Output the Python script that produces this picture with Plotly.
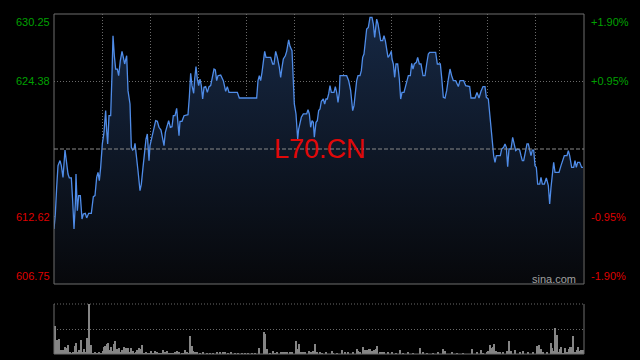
import plotly.graph_objects as go

# ---------------- data ----------------
prev_close = 618.50
price_ticks = [630.25, 624.38, 612.62, 606.75]
price_tick_labels = ["630.25", "624.38", "612.62", "606.75"]
pct_tick_labels = ["+1.90%", "+0.95%", "-0.95%", "-1.90%"]
session_seconds = 15900

# elapsed seconds since open
t_price = [
    0, 40, 80, 120, 180, 220, 270, 300, 330, 370, 420, 460, 520, 560, 600, 640, 660, 700, 740, 790,
    840, 880, 940, 980, 1040, 1120, 1180, 1230, 1280, 1320, 1360, 1400, 1450, 1500, 1550, 1580, 1610, 1650, 1700, 1740,
    1770, 1810, 1850, 1900, 1940, 1990, 2040, 2080, 2120, 2180, 2220, 2280, 2320, 2360, 2400, 2430, 2470, 2520, 2580, 2620,
    2670, 2720, 2760, 2800, 2850, 2880, 2920, 2960, 3000, 3050, 3100, 3150, 3210, 3260, 3300, 3340, 3380, 3440, 3490, 3540,
    3580, 3630, 3680, 3720, 3750, 3780, 3840, 3900, 3970, 4020, 4060, 4100, 4140, 4190, 4220, 4260, 4300, 4340, 4380, 4420,
    4460, 4500, 4550, 4600, 4650, 4700, 4750, 4800, 4840, 4880, 4920, 5000, 5080, 5150, 5200, 5250, 5500, 5560, 6080, 6120,
    6160, 6200, 6240, 6280, 6320, 6360, 6500, 6560, 6600, 6650, 6700, 6760, 6800, 6840, 6880, 6940, 6980, 7040, 7080, 7140,
    7180, 7210, 7260, 7310, 7340, 7380, 7420, 7480, 7580, 7620, 7660, 7700, 7740, 7780, 7810, 7860, 7900, 7940, 7980, 8020,
    8080, 8120, 8160, 8200, 8240, 8280, 8320, 8400, 8440, 8480, 8520, 8560, 8580, 8780, 8840, 8900, 8960, 9000, 9040, 9080,
    9120, 9180, 9220, 9260, 9300, 9340, 9380, 9430, 9480, 9540, 9580, 9620, 9660, 9680, 9720, 9760, 9800, 9860, 9900, 9940,
    9980, 10020, 10060, 10120, 10140, 10180, 10220, 10260, 10310, 10360, 10400, 10440, 10500, 10580, 10630, 10690, 10730, 10770, 10810, 10870,
    10910, 10960, 11010, 11070, 11130, 11180, 11230, 11270, 11450, 11500, 11590, 11630, 11680, 11730, 11780, 11830, 11880, 11930, 11980, 12050,
    12130, 12180, 12290, 12350, 12470, 12510, 12630, 12690, 12750, 12810, 12870, 12930, 12970, 13030, 13070, 13110, 13150, 13190, 13230, 13270,
    13390, 13430, 13490, 13530, 13570, 13610, 13650, 13710, 13760, 13810, 13850, 13910, 13970, 14010, 14050, 14090, 14130, 14190, 14230, 14270,
    14310, 14350, 14390, 14430, 14470, 14510, 14570, 14610, 14650, 14710, 14770, 14830, 14870, 14910, 14950, 14990, 15030, 15150, 15210, 15270,
    15310, 15390, 15430, 15470, 15530, 15590, 15630, 15670, 15710, 15770, 15830, 15870,
]
price = [
    611.54, 612.84, 615.16, 617.05, 617.49, 617.05, 616.03, 617.49, 618.41, 617.49, 616.32, 615.98, 615.98, 614.00, 611.54, 613.71, 616.32, 613.13, 614.44, 614.44,
    612.41, 612.84, 612.90, 612.50, 612.90, 612.90, 614.35, 614.44, 616.03, 616.47, 615.75, 616.90, 618.94, 619.95, 621.84, 620.10, 618.94, 621.40, 621.40, 625.03,
    628.36, 626.62, 625.46, 625.46, 624.88, 626.19, 627.00, 626.48, 625.90, 626.62, 623.58, 622.42, 618.65, 618.41, 618.50, 618.99, 618.07, 616.61, 614.87, 615.45,
    616.90, 618.50, 619.37, 619.81, 617.49, 618.79, 619.37, 619.95, 620.24, 620.97, 620.91, 620.39, 620.15, 619.52, 618.79, 619.95, 620.39, 620.97, 620.39, 620.44,
    621.40, 621.40, 622.04, 620.68, 619.66, 620.91, 620.91, 621.40, 621.46, 621.49, 623.00, 625.09, 624.01, 623.35, 624.59, 625.67, 624.59, 624.01, 624.59, 624.01,
    622.85, 623.87, 623.93, 623.43, 623.93, 624.01, 624.74, 625.46, 625.38, 624.45, 624.88, 624.94, 624.45, 623.52, 623.93, 623.43, 623.43, 622.94, 622.94, 624.45,
    624.88, 624.45, 625.17, 625.90, 627.00, 626.48, 626.48, 625.90, 625.90, 627.00, 626.48, 625.61, 624.74, 625.61, 626.33, 626.62, 627.00, 627.99, 627.44, 627.06,
    625.03, 622.42, 621.55, 619.37, 620.24, 620.68, 621.26, 621.55, 621.55, 621.92, 621.55, 620.39, 620.97, 620.82, 619.52, 620.82, 620.97, 621.84, 621.98, 622.65,
    622.85, 622.42, 622.85, 622.85, 623.29, 624.01, 623.43, 623.43, 623.93, 623.43, 622.56, 623.43, 624.88, 624.88, 624.45, 623.58, 621.84, 622.27, 623.29, 624.45,
    624.88, 624.88, 625.32, 626.48, 626.77, 627.78, 628.94, 629.09, 629.96, 629.96, 629.38, 628.22, 629.09, 629.81, 629.38, 628.80, 627.93, 627.93, 628.36, 627.93,
    627.35, 626.48, 626.62, 627.00, 626.33, 625.90, 624.74, 625.90, 625.90, 624.59, 622.85, 623.43, 623.43, 624.30, 624.88, 624.88, 625.96, 625.46, 625.90, 626.04,
    626.48, 625.90, 625.90, 624.88, 624.88, 625.90, 626.77, 626.91, 626.91, 625.90, 625.90, 624.74, 623.00, 622.94, 623.58, 624.59, 625.46, 624.88, 624.45, 624.45,
    623.93, 624.45, 624.45, 624.01, 623.93, 622.94, 622.94, 623.43, 622.94, 623.52, 623.93, 623.93, 623.00, 622.85, 621.55, 620.24, 618.94, 617.92, 617.34, 617.92,
    617.92, 618.50, 618.65, 618.94, 618.65, 616.96, 618.50, 618.50, 619.52, 618.79, 618.36, 618.50, 618.41, 617.92, 617.49, 617.49, 618.07, 618.94, 618.94, 618.50,
    617.92, 618.41, 618.41, 617.05, 616.90, 615.45, 615.45, 616.03, 615.45, 615.45, 615.98, 615.31, 613.71, 615.16, 616.61, 617.34, 616.47, 616.47, 617.05, 617.49,
    617.92, 617.92, 618.36, 617.92, 616.90, 616.90, 617.49, 616.90, 617.34, 617.34, 616.90, 616.90,
]

t_vol = [
    30, 100, 150, 190, 240, 280, 340, 380, 430, 480, 530, 580, 640, 670, 720, 760, 820, 860, 910, 950,
    1000, 1060, 1120, 1180, 1230, 1280, 1340, 1400, 1460, 1500, 1540, 1580, 1620, 1660, 1700, 1760, 1800, 1840, 1880, 1930,
    1960, 2010, 2050, 2100, 2140, 2180, 2230, 2270, 2320, 2360, 2410, 2450, 2500, 2560, 2600, 2650, 2700, 2750, 2800, 2850,
    2900, 2960, 3000, 3040, 3100, 3150, 3200, 3280, 3320, 3380, 3440, 3500, 3560, 3620, 3700, 3760, 3830, 3880, 3940, 4000,
    4040, 4090, 4140, 4180, 4230, 4280, 4380, 4480, 4580, 4680, 4780, 4900, 4980, 5060, 5140, 5230, 5320, 5420, 5530, 5630,
    5740, 5830, 5940, 6040, 6160, 6300, 6340, 6400, 6480, 6560, 6630, 6700, 6800, 6880, 6940, 7000, 7080, 7140, 7260, 7300,
    7360, 7420, 7480, 7540, 7640, 7700, 7760, 7840, 7900, 7980, 8030, 8160, 8330, 8380, 8480, 8650, 8730, 8830, 8980, 9080,
    9130, 9180, 9280, 9320, 9380, 9440, 9480, 9530, 9610, 9650, 9700, 9780, 9840, 9900, 10030, 10130, 10260, 10380, 10480, 10630,
    10780, 10980, 11080, 11180, 11380, 11530, 11680, 11730, 11930, 12080, 12280, 12530, 12680, 12810, 12880, 12980, 13030, 13080, 13130, 13180,
    13210, 13260, 13330, 13380, 13480, 13580, 13660, 13720, 13840, 13980, 14080, 14230, 14380, 14480, 14530, 14560, 14620, 14680, 14780, 14900,
    14950, 15000, 15040, 15100, 15140, 15180, 15220, 15280, 15340, 15400, 15440, 15480, 15540, 15580, 15630, 15680, 15720, 15760, 15800, 15840,
    15880,
]
volume = [
    57, 29, 31, 9, 9, 9, 14, 12, 19, 5, 2, 5, 17, 22, 5, 9, 29, 5, 10, 3,
    32, 100, 19, 2, 3, 2, 3, 2, 7, 14, 17, 21, 22, 9, 15, 7, 21, 27, 10, 5,
    12, 5, 9, 14, 12, 12, 12, 3, 12, 7, 2, 3, 9, 12, 10, 19, 2, 5, 2, 2,
    6, 2, 2, 6, 3, 2, 2, 9, 5, 6, 2, 2, 2, 3, 7, 5, 2, 2, 9, 3,
    2, 37, 17, 7, 3, 4, 2, 4, 2, 2, 2, 5, 3, 3, 4, 2, 3, 2, 2, 2,
    2, 2, 2, 2, 12, 44, 40, 10, 2, 7, 2, 3, 5, 3, 5, 5, 5, 5, 27, 11,
    21, 3, 4, 5, 7, 5, 7, 21, 3, 5, 2, 5, 7, 2, 2, 9, 4, 5, 4, 11,
    7, 3, 15, 9, 9, 11, 11, 7, 9, 10, 17, 3, 5, 4, 3, 3, 2, 9, 2, 3,
    2, 13, 3, 2, 2, 5, 10, 6, 3, 2, 2, 11, 3, 9, 2, 5, 7, 19, 12, 14,
    21, 7, 5, 5, 5, 7, 27, 6, 9, 4, 6, 3, 5, 17, 3, 19, 10, 3, 4, 22,
    12, 7, 52, 39, 5, 10, 14, 2, 12, 5, 11, 14, 14, 37, 3, 9, 15, 7, 9, 5,
    9,
]

# ---------------- styling ----------------
GREEN = "rgb(0,160,0)"
RED = "rgb(222,0,0)"
GRID = "#6a6a6a"
BORDER = "#6e6e6e"
FONT = "Liberation Sans, Arial, sans-serif"
y_lo, y_hi = price_ticks[-1], price_ticks[0]

fig = go.Figure()
fig.add_trace(go.Scatter(
    x=t_price, y=price, mode="lines",
    line=dict(color="#4f8ce8", width=1.3),
    fill="tozeroy",
    fillgradient=dict(type="vertical",
                      colorscale=[[0, "rgb(7,8,11)"], [1, "rgb(22,40,68)"]],
                      start=y_lo, stop=y_hi),
    hoverinfo="skip", xaxis="x", yaxis="y", showlegend=False,
))
fig.add_trace(go.Bar(
    x=t_vol, y=volume, width=30,
    marker=dict(color="#858585", line=dict(width=0)),
    hoverinfo="skip", xaxis="x2", yaxis="y2", showlegend=False,
))

main_bottom = 1 - 270 / 340
vol_top = 1 - 290 / 340

fig.update_layout(
    width=640, height=360,
    margin=dict(l=54, r=56, t=14, b=6, pad=0),
    paper_bgcolor="black", plot_bgcolor="black",
    font=dict(family=FONT, size=11),
    bargap=0,
    xaxis=dict(domain=[0, 1], range=[0, session_seconds], anchor="y",
               showticklabels=False, ticks="", zeroline=False, showline=False,
               showgrid=True, gridcolor=GRID, griddash="1px,2px", gridwidth=1,
               tick0=0, dtick=session_seconds / 11),
    yaxis=dict(domain=[main_bottom, 1], range=[y_lo, y_hi], anchor="x",
               showticklabels=False, ticks="", zeroline=False, showline=False,
               showgrid=True, gridcolor=GRID, griddash="1px,2px", gridwidth=1,
               tickmode="array", tickvals=[price_ticks[1], price_ticks[2]]),
    xaxis2=dict(domain=[0, 1], range=[0, session_seconds], anchor="y2",
                showticklabels=False, ticks="", zeroline=False, showline=False,
                showgrid=False),
    yaxis2=dict(domain=[0, vol_top], range=[0, 100], anchor="x2",
                showticklabels=False, ticks="", zeroline=False, showline=False,
                showgrid=True, gridcolor=GRID, griddash="1px,2px", gridwidth=1,
                tickmode="array", tickvals=[50]),
)

shapes = [
    # main border
    dict(type="rect", xref="x domain", yref="y domain", x0=0, x1=1, y0=0, y1=1,
         line=dict(color=BORDER, width=1)),
    # previous close line
    dict(type="line", xref="x domain", yref="y", x0=0, x1=1, y0=prev_close, y1=prev_close,
         line=dict(color="#8a8a8a", width=1, dash="4px,2px")),
    # volume panel borders
    dict(type="line", xref="x2 domain", yref="y2 domain", x0=0, x1=0, y0=0, y1=1,
         line=dict(color=BORDER, width=1)),
    dict(type="line", xref="x2 domain", yref="y2 domain", x0=1, x1=1, y0=0, y1=1,
         line=dict(color=BORDER, width=1)),
    dict(type="line", xref="x2 domain", yref="y2 domain", x0=0, x1=1, y0=0, y1=0,
         line=dict(color=BORDER, width=1)),
    dict(type="line", xref="x2 domain", yref="y2 domain", x0=0, x1=1, y0=1, y1=1,
         line=dict(color=GRID, width=1, dash="1px,2px")),
]
fig.update_layout(shapes=shapes)

annotations = []
anchors = ["top", "middle", "middle", "bottom"]
for val, lab, pct, anc in zip(price_ticks, price_tick_labels, pct_tick_labels, anchors):
    col = GREEN if val > prev_close else RED
    annotations.append(dict(xref="paper", yref="y", x=0, y=val, text=lab, showarrow=False,
                            xanchor="right", yanchor=anc, xshift=-2,
                            font=dict(family=FONT, size=11, color=col)))
    annotations.append(dict(xref="paper", yref="y", x=1, y=val, text=pct, showarrow=False,
                            xanchor="left", yanchor=anc, xshift=5,
                            font=dict(family=FONT, size=11, color=col)))
annotations.append(dict(xref="paper", yref="y", x=0.502, y=prev_close, text="L70.CN",
                        showarrow=False, xanchor="center", yanchor="middle",
                        font=dict(family=FONT, size=27, color="rgb(225,8,8)")))
annotations.append(dict(xref="paper", yref="y domain", x=0.988, y=0, text="sina.com",
                        showarrow=False, xanchor="right", yanchor="bottom", yshift=-3,
                        font=dict(family=FONT, size=11, color="#a0a0a0")))
fig.update_layout(annotations=annotations)

fig.write_html("out.html", config={"displayModeBar": False})
